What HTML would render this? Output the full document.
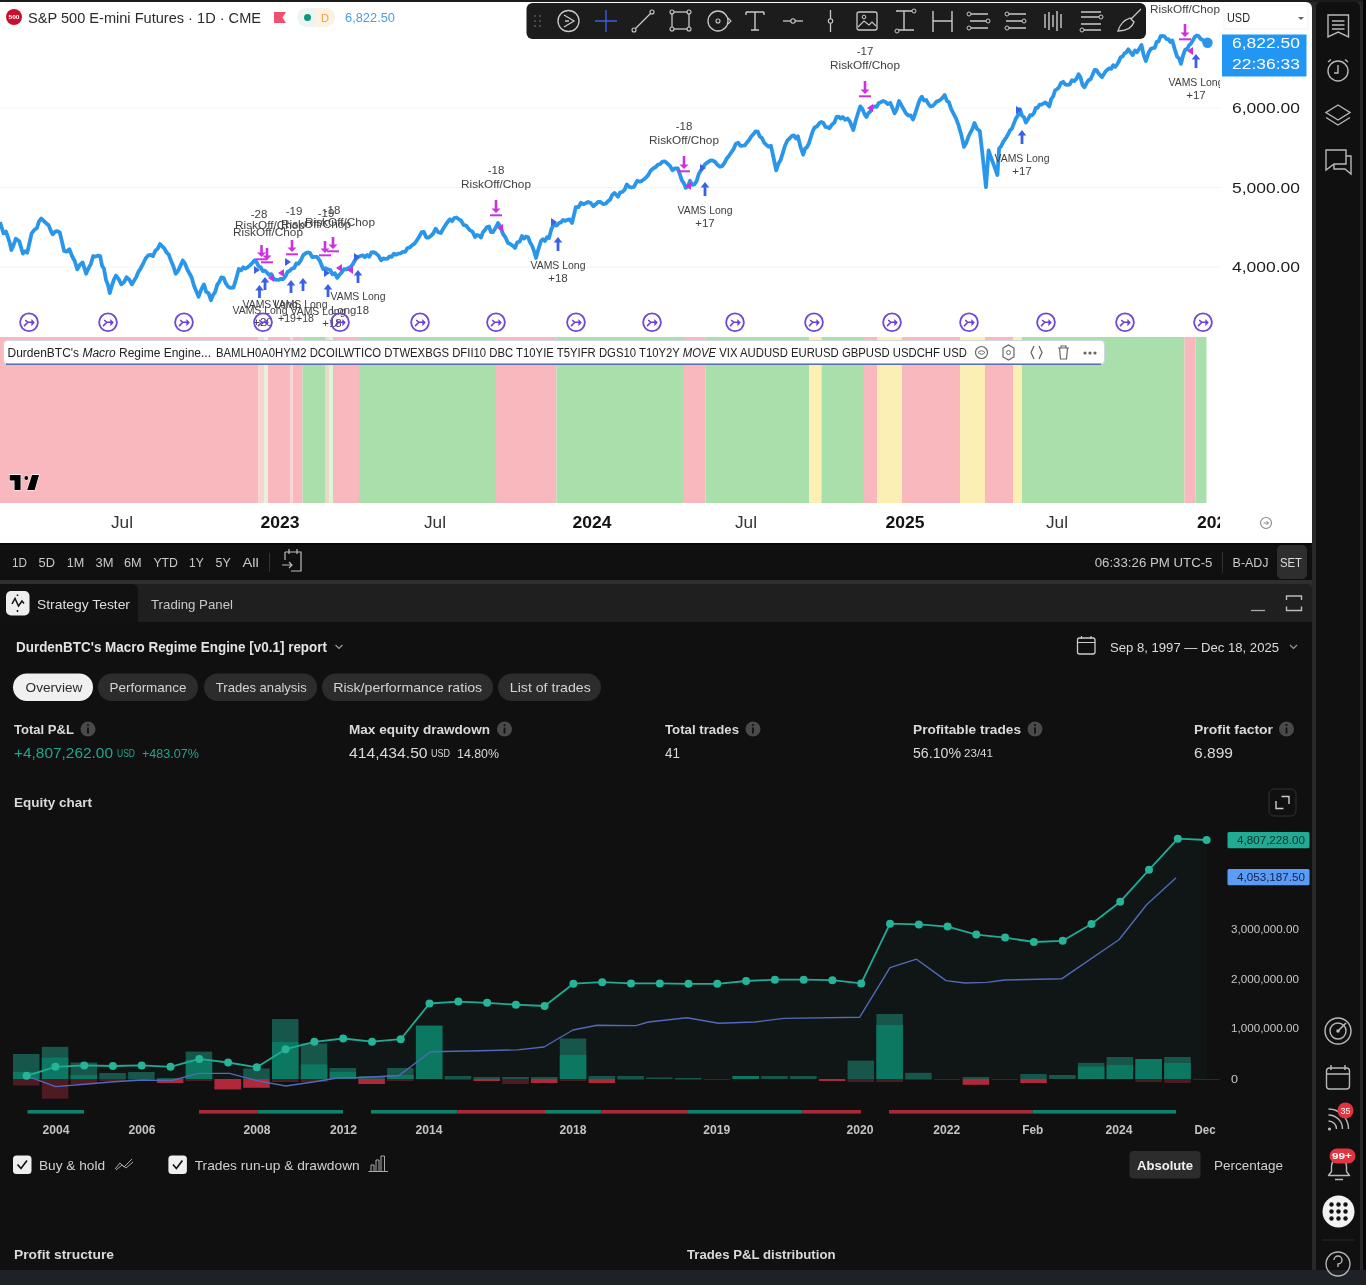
<!DOCTYPE html>
<html><head><meta charset="utf-8">
<style>
*{margin:0;padding:0;box-sizing:border-box}
html,body{width:1366px;height:1285px;overflow:hidden;background:#282828;font-family:"Liberation Sans",sans-serif}
.a{position:absolute}
.t{position:absolute;white-space:nowrap;line-height:1}
</style></head><body>

<div class="a" style="left:0;top:0;width:1366px;height:2px;background:#1b1b1b"></div><div class="a" style="left:1363px;top:0;width:3px;height:1285px;background:#070707"></div>
<div class="a" style="left:0;top:2px;width:1312px;height:541px;background:#fff;border-top-right-radius:6px"></div>
<div class="a" style="left:1316px;top:2px;width:44px;height:1268px;background:#101010;border-top-left-radius:5px;border-top-right-radius:5px"></div>
<div class="a" style="left:0;top:543px;width:1312px;height:37px;background:#101010"></div><div class="a" style="left:0;top:543px;width:1312px;height:2px;background:#080808"></div>
<div class="a" style="left:0;top:580px;width:1312px;height:4px;background:#2f2f2f"></div><div class="a" style="left:0;top:584px;width:1312px;height:38px;background:#1f1f1f;border-top-right-radius:6px"></div>
<div class="a" style="left:0;top:584px;width:138px;height:38px;background:#111111;border-top-right-radius:6px"></div>
<div class="a" style="left:0;top:622px;width:1312px;height:648px;background:#101010"></div>
<div class="a" style="left:0;top:1270px;width:1366px;height:15px;background:#1e2227"></div>
<svg class="a" style="left:0;top:0;will-change:transform" width="1312" height="543" font-family="Liberation Sans, sans-serif"><path d="M0 108H1220M0 187.5H1220M0 267H1220" stroke="#f2f3f6" stroke-width="1"/><rect x="0.0" y="337" width="258.5" height="166" fill="#f9b8bd"/><rect x="258.5" y="337" width="5.5" height="166" fill="#f6d4d0"/><rect x="264.0" y="337" width="4.0" height="166" fill="#e8f1dc"/><rect x="268.0" y="337" width="22.0" height="166" fill="#f9b8bd"/><rect x="290.0" y="337" width="3.0" height="166" fill="#f8d6d3"/><rect x="293.0" y="337" width="9.5" height="166" fill="#f9b8bd"/><rect x="302.5" y="337" width="22.5" height="166" fill="#a9dfaa"/><rect x="325.0" y="337" width="4.0" height="166" fill="#ead9c6"/><rect x="329.0" y="337" width="4.0" height="166" fill="#dcf5d8"/><rect x="333.0" y="337" width="26.0" height="166" fill="#f9b8bd"/><rect x="359.0" y="337" width="137.0" height="166" fill="#a9dfaa"/><rect x="496.0" y="337" width="60.5" height="166" fill="#f9b8bd"/><rect x="556.5" y="337" width="127.5" height="166" fill="#a9dfaa"/><rect x="684.0" y="337" width="21.5" height="166" fill="#f9b8bd"/><rect x="705.5" y="337" width="103.5" height="166" fill="#a9dfaa"/><rect x="809.0" y="337" width="12.5" height="166" fill="#fbefb3"/><rect x="821.5" y="337" width="42.5" height="166" fill="#a9dfaa"/><rect x="864.0" y="337" width="13.0" height="166" fill="#f9b8bd"/><rect x="877.0" y="337" width="25.0" height="166" fill="#fbefb3"/><rect x="902.0" y="337" width="58.0" height="166" fill="#f9b8bd"/><rect x="960.0" y="337" width="25.0" height="166" fill="#fbefb3"/><rect x="985.0" y="337" width="28.0" height="166" fill="#f9b8bd"/><rect x="1013.0" y="337" width="9.0" height="166" fill="#fbefb3"/><rect x="1022.0" y="337" width="162.5" height="166" fill="#a9dfaa"/><rect x="1184.5" y="337" width="11.0" height="166" fill="#f9b8bd"/><rect x="1195.5" y="337" width="11.0" height="166" fill="#a9dfaa"/><path d="M0.0 222.0 L3.5 233.4 L6.0 231.6 L7.8 236.9 L9.6 242.3 L11.4 250.0 L13.6 245.0 L15.8 238.7 L19.3 241.3 L22.8 253.6 L25.0 251.2 L27.2 252.7 L29.4 243.2 L31.6 233.4 L34.2 230.1 L36.9 228.0 L39.1 221.2 L41.3 218.5 L44.0 221.1 L46.6 223.7 L48.6 225.1 L50.7 230.5 L52.7 234.3 L55.1 231.7 L57.4 231.2 L59.8 232.5 L61.9 241.4 L64.1 251.0 L66.8 251.6 L69.4 249.2 L72.0 256.0 L74.7 261.0 L77.3 269.4 L79.9 264.6 L82.6 262.4 L86.1 273.8 L88.4 268.5 L90.8 264.1 L93.1 256.2 L95.5 256.6 L97.8 255.7 L100.2 256.2 L102.1 265.8 L104.0 268.8 L106.0 279.9 L107.9 284.7 L109.8 293.0 L111.9 285.6 L113.9 279.6 L116.0 275.6 L118.7 279.1 L121.3 284.4 L123.9 282.3 L126.5 277.3 L129.2 279.4 L131.8 284.4 L134.0 280.8 L136.2 277.1 L138.4 271.9 L140.6 268.5 L143.2 263.5 L145.9 258.0 L148.2 255.4 L150.6 254.8 L152.9 256.2 L155.3 250.8 L157.6 248.9 L160.0 244.0 L162.2 246.3 L164.3 248.4 L166.5 252.3 L168.7 254.5 L171.0 260.7 L173.4 266.4 L175.7 273.8 L178.1 270.8 L180.4 265.9 L182.8 260.6 L185.0 263.6 L187.2 269.3 L189.4 273.2 L191.6 277.3 L193.9 285.5 L196.3 291.3 L198.6 296.7 L201.2 289.6 L203.9 284.4 L206.2 291.9 L208.6 293.2 L210.9 300.2 L213.0 295.2 L215.1 292.2 L217.2 284.9 L219.3 281.8 L221.4 277.3 L223.6 277.8 L225.8 283.4 L228.0 286.5 L230.2 287.9 L233.5 287.5 L236.2 278.6 L238.8 269.0 L241.0 270.3 L243.2 267.3 L245.4 268.6 L247.6 267.3 L249.9 265.4 L252.3 263.0 L254.6 260.3 L256.7 262.4 L258.7 266.5 L260.8 267.3 L262.8 271.1 L264.9 270.7 L266.9 272.6 L269.1 275.1 L271.3 274.1 L273.5 278.8 L275.7 279.6 L278.4 279.9 L281.0 278.8 L283.2 279.1 L285.4 276.3 L287.6 271.8 L289.8 270.8 L292.0 268.5 L294.1 268.1 L296.3 263.4 L298.5 263.8 L300.9 260.1 L303.2 255.3 L305.6 253.3 L307.8 252.4 L310.0 253.0 L312.2 257.2 L314.4 256.8 L317.0 256.8 L319.6 260.3 L323.1 269.0 L325.5 268.2 L327.8 269.2 L330.2 270.0 L332.5 274.3 L334.9 273.3 L337.2 277.9 L339.5 274.7 L341.9 272.2 L344.2 269.0 L346.4 269.5 L348.6 267.9 L350.8 266.8 L353.0 263.8 L355.6 259.3 L358.3 256.8 L360.5 256.0 L362.7 255.3 L364.9 257.2 L367.1 255.0 L369.3 256.7 L371.5 252.5 L373.7 252.2 L375.9 253.3 L378.5 255.6 L381.1 260.3 L383.2 258.4 L385.3 258.8 L387.5 258.6 L389.6 256.4 L391.7 256.8 L393.9 253.6 L396.1 254.7 L398.3 253.6 L400.5 253.3 L402.8 251.8 L405.2 251.9 L407.5 248.0 L409.8 247.4 L412.2 245.1 L414.5 243.6 L416.9 240.3 L419.2 236.8 L421.6 232.2 L423.9 231.9 L426.3 237.6 L428.6 237.5 L430.9 235.9 L433.3 233.4 L435.6 228.7 L438.2 232.2 L440.9 233.0 L443.2 228.7 L445.6 224.9 L447.9 221.6 L450.0 219.3 L452.1 221.2 L454.3 218.0 L456.4 217.5 L458.5 219.0 L461.1 220.7 L463.7 225.1 L465.8 225.3 L467.9 227.9 L470.0 230.4 L472.5 231.6 L475.0 237.0 L477.0 234.9 L479.0 235.7 L481.0 237.5 L483.0 232.2 L485.0 229.9 L487.0 227.0 L489.0 226.5 L491.0 232.1 L493.0 232.0 L495.5 228.0 L498.0 223.0 L500.5 226.9 L503.0 234.0 L505.5 237.4 L508.0 243.0 L510.3 244.0 L512.7 245.7 L515.0 248.0 L517.3 242.3 L519.7 241.6 L522.0 236.0 L524.0 238.6 L526.0 236.5 L528.0 237.0 L530.0 242.2 L532.0 245.6 L534.0 250.9 L536.0 258.0 L538.5 248.8 L541.0 241.0 L543.0 239.2 L545.0 241.0 L547.0 237.2 L549.0 238.0 L551.5 228.8 L554.0 224.0 L556.5 225.6 L559.0 223.0 L561.0 222.4 L563.0 219.9 L565.0 220.9 L567.0 220.0 L569.5 219.3 L572.0 223.0 L573.9 215.2 L575.8 207.2 L578.4 207.2 L581.0 202.8 L583.4 204.2 L585.7 203.2 L588.1 202.0 L590.8 203.1 L593.4 206.3 L595.7 204.3 L598.1 201.9 L600.4 202.0 L603.0 204.1 L605.7 203.7 L607.9 201.2 L610.1 199.6 L612.3 194.9 L614.5 193.0 L618.0 196.7 L620.2 192.4 L622.4 192.0 L624.6 189.7 L626.8 184.4 L629.1 186.9 L631.5 187.5 L633.8 187.0 L637.3 180.8 L639.7 181.7 L642.0 180.7 L644.4 179.0 L647.9 175.6 L650.5 170.8 L653.1 168.5 L655.5 167.1 L657.8 164.8 L660.2 164.0 L662.5 161.6 L664.9 161.4 L667.2 163.3 L669.9 165.8 L672.5 170.3 L675.1 168.3 L677.8 168.5 L679.8 174.2 L681.8 180.3 L683.7 182.8 L685.7 187.9 L687.9 186.4 L690.0 180.8 L692.2 184.8 L694.4 184.4 L696.6 181.2 L698.8 173.8 L701.0 170.3 L703.2 166.8 L705.4 164.0 L707.6 162.4 L710.0 160.7 L712.3 160.4 L714.7 161.5 L717.4 164.7 L720.0 166.8 L722.2 166.0 L724.4 163.1 L726.5 158.8 L728.7 156.2 L731.0 152.8 L733.4 149.4 L735.7 144.0 L738.1 142.7 L740.4 145.9 L742.8 145.7 L744.9 145.3 L747.0 142.4 L749.1 140.0 L751.2 136.5 L753.3 134.3 L755.5 131.5 L757.7 131.6 L759.8 136.5 L761.8 137.9 L763.9 142.2 L766.2 144.8 L768.6 146.7 L770.9 145.7 L773.5 157.5 L776.2 170.3 L778.4 163.7 L780.6 160.1 L782.8 152.9 L785.0 145.7 L787.5 140.3 L790.0 138.0 L792.0 135.8 L794.0 135.5 L795.9 138.5 L797.9 136.2 L800.5 146.9 L803.2 154.7 L805.1 148.5 L807.0 147.1 L808.9 143.3 L810.8 137.3 L812.7 131.3 L814.6 127.5 L816.8 126.6 L819.0 123.6 L821.2 121.9 L823.4 123.0 L825.4 126.9 L827.5 127.2 L829.5 128.3 L831.9 124.6 L834.2 122.7 L836.6 116.9 L838.6 116.6 L840.7 118.6 L842.7 116.9 L845.1 119.9 L847.4 118.5 L849.8 121.3 L853.3 130.0 L855.6 121.0 L858.0 113.3 L860.3 106.4 L862.3 108.7 L864.4 113.9 L866.4 117.0 L868.4 113.2 L870.4 111.3 L872.4 107.4 L874.4 106.4 L876.6 106.9 L878.8 103.0 L880.9 102.2 L883.1 101.0 L885.5 102.0 L887.8 104.1 L890.2 102.8 L892.4 107.7 L894.6 113.4 L896.8 109.1 L899.0 101.0 L901.3 105.1 L903.7 109.4 L906.0 113.4 L908.3 115.5 L910.7 115.3 L913.0 119.5 L915.2 113.5 L917.4 106.6 L919.6 100.1 L921.8 96.7 L924.0 100.5 L926.2 100.0 L928.4 103.9 L930.6 106.4 L932.7 106.0 L934.8 103.8 L936.9 101.3 L939.0 100.8 L941.1 99.3 L942.9 97.4 L944.7 95.0 L946.9 100.9 L949.0 102.4 L951.2 109.1 L953.4 113.4 L956.0 118.4 L958.7 125.7 L961.4 135.2 L964.0 146.8 L966.1 143.3 L968.2 137.3 L970.3 132.8 L972.4 129.0 L974.5 123.0 L977.1 128.9 L979.8 131.0 L982.4 153.8 L984.2 170.2 L986.0 187.2 L988.6 150.3 L990.8 157.0 L993.0 162.7 L995.2 168.9 L997.4 175.0 L999.1 148.5 L1001.3 145.9 L1003.5 141.3 L1005.8 138.2 L1008.0 134.5 L1010.0 130.4 L1011.9 128.6 L1013.8 123.6 L1015.8 118.7 L1017.9 115.7 L1020.0 109.3 L1022.0 115.7 L1023.9 117.0 L1025.9 122.5 L1028.1 119.1 L1030.2 115.2 L1032.0 115.4 L1033.9 113.1 L1035.8 108.0 L1037.6 107.8 L1039.5 104.6 L1041.5 104.7 L1043.4 103.5 L1045.4 102.5 L1047.3 104.2 L1049.3 106.4 L1051.2 99.1 L1053.2 96.4 L1055.1 90.3 L1057.1 89.2 L1059.0 87.3 L1061.0 83.0 L1063.2 81.8 L1065.4 84.7 L1067.6 84.8 L1069.8 84.4 L1072.0 80.2 L1074.2 81.1 L1076.4 78.9 L1078.6 74.2 L1080.5 77.3 L1082.5 85.0 L1084.4 87.3 L1086.5 83.3 L1088.5 80.2 L1090.6 79.1 L1092.6 74.8 L1094.7 69.8 L1096.5 70.1 L1098.3 73.1 L1100.2 75.3 L1102.0 77.1 L1103.8 74.2 L1105.7 71.3 L1107.5 69.7 L1109.3 68.3 L1111.3 68.9 L1113.2 65.2 L1115.2 66.9 L1117.0 64.6 L1118.8 61.5 L1120.7 57.0 L1122.5 56.6 L1124.4 53.4 L1126.4 52.3 L1128.3 49.3 L1130.5 52.3 L1132.7 55.1 L1134.9 50.5 L1137.1 52.2 L1139.3 48.8 L1141.5 44.9 L1143.7 55.1 L1145.9 61.0 L1148.8 52.2 L1150.8 48.9 L1152.7 48.2 L1154.7 47.8 L1156.7 41.8 L1158.6 41.3 L1160.6 36.1 L1162.5 36.0 L1164.5 36.3 L1166.4 39.0 L1168.4 39.1 L1170.3 41.9 L1172.3 40.5 L1175.2 50.7 L1177.1 56.6 L1179.1 58.4 L1181.0 63.9 L1183.2 55.0 L1185.4 49.3 L1187.2 49.0 L1189.1 45.2 L1191.0 43.6 L1192.8 40.5 L1194.7 37.1 L1196.7 35.5 L1198.6 36.1 L1200.6 38.9 L1202.5 39.7 L1204.5 42.0 L1207.4 42.7" stroke="#2a96ea" stroke-width="3.8" fill="none" stroke-linejoin="round"/><circle cx="1207.5" cy="42.7" r="5.2" fill="#2a96ea"/><clipPath id="plotclip"><rect x="0" y="0" width="1220" height="543"/></clipPath><g clip-path="url(#plotclip)"><text x="496" y="174" font-size="11.5" fill="#404040" text-anchor="middle" font-weight="normal" >-18</text><text x="496" y="188" font-size="11.5" fill="#404040" text-anchor="middle" font-weight="normal"  textLength="70" lengthAdjust="spacingAndGlyphs">RiskOff/Chop</text><path d="M496.0 200.0 V210.0" stroke="#cc30e0" stroke-width="2.6"/><path d="M491.5 208.5 L496.0 213.0 L500.5 208.5 Z" fill="#cc30e0"/><path d="M490.0 215.3 H502.0" stroke="#cc30e0" stroke-width="2"/><text x="684" y="130" font-size="11.5" fill="#404040" text-anchor="middle" font-weight="normal" >-18</text><text x="684" y="144" font-size="11.5" fill="#404040" text-anchor="middle" font-weight="normal"  textLength="70" lengthAdjust="spacingAndGlyphs">RiskOff/Chop</text><path d="M684.0 156.0 V166.0" stroke="#cc30e0" stroke-width="2.6"/><path d="M679.5 164.5 L684.0 169.0 L688.5 164.5 Z" fill="#cc30e0"/><path d="M678.0 171.3 H690.0" stroke="#cc30e0" stroke-width="2"/><text x="865" y="55" font-size="11.5" fill="#404040" text-anchor="middle" font-weight="normal" >-17</text><text x="865" y="69" font-size="11.5" fill="#404040" text-anchor="middle" font-weight="normal"  textLength="70" lengthAdjust="spacingAndGlyphs">RiskOff/Chop</text><path d="M865.0 81.0 V91.0" stroke="#cc30e0" stroke-width="2.6"/><path d="M860.5 89.5 L865.0 94.0 L869.5 89.5 Z" fill="#cc30e0"/><path d="M859.0 96.3 H871.0" stroke="#cc30e0" stroke-width="2"/><text x="1185" y="13" font-size="11.5" fill="#404040" text-anchor="middle" font-weight="normal"  textLength="70" lengthAdjust="spacingAndGlyphs">RiskOff/Chop</text><path d="M1185.0 24.0 V34.0" stroke="#cc30e0" stroke-width="2.6"/><path d="M1180.5 32.5 L1185.0 37.0 L1189.5 32.5 Z" fill="#cc30e0"/><path d="M1179.0 39.3 H1191.0" stroke="#cc30e0" stroke-width="2"/><path d="M558.0 251.0 V240.0" stroke="#3b5fe6" stroke-width="2.8"/><path d="M553.7 242.5 L558.0 237.0 L562.3 242.5 Z" fill="#3b5fe6"/><text x="558" y="269" font-size="11.5" fill="#404040" text-anchor="middle" font-weight="normal"  textLength="55" lengthAdjust="spacingAndGlyphs">VAMS Long</text><text x="558" y="282" font-size="11.5" fill="#404040" text-anchor="middle" font-weight="normal" >+18</text><path d="M705.0 196.0 V185.0" stroke="#3b5fe6" stroke-width="2.8"/><path d="M700.7 187.5 L705.0 182.0 L709.3 187.5 Z" fill="#3b5fe6"/><text x="705" y="214" font-size="11.5" fill="#404040" text-anchor="middle" font-weight="normal"  textLength="55" lengthAdjust="spacingAndGlyphs">VAMS Long</text><text x="705" y="227" font-size="11.5" fill="#404040" text-anchor="middle" font-weight="normal" >+17</text><path d="M1022.0 144.0 V133.0" stroke="#3b5fe6" stroke-width="2.8"/><path d="M1017.7 135.5 L1022.0 130.0 L1026.3 135.5 Z" fill="#3b5fe6"/><text x="1022" y="162" font-size="11.5" fill="#404040" text-anchor="middle" font-weight="normal"  textLength="55" lengthAdjust="spacingAndGlyphs">VAMS Long</text><text x="1022" y="175" font-size="11.5" fill="#404040" text-anchor="middle" font-weight="normal" >+17</text><path d="M1196.0 68.0 V57.0" stroke="#3b5fe6" stroke-width="2.8"/><path d="M1191.7 59.5 L1196.0 54.0 L1200.3 59.5 Z" fill="#3b5fe6"/><text x="1196" y="86" font-size="11.5" fill="#404040" text-anchor="middle" font-weight="normal"  textLength="55" lengthAdjust="spacingAndGlyphs">VAMS Long</text><text x="1196" y="99" font-size="11.5" fill="#404040" text-anchor="middle" font-weight="normal" >+17</text><path d="M497.0 228.0 L503.0 224.0 L503.0 232.0 Z" fill="#cc30e0"/><path d="M557.0 222.0 L551.0 218.0 L551.0 226.0 Z" fill="#3b5fe6"/><path d="M685.0 186.0 L691.0 182.0 L691.0 190.0 Z" fill="#cc30e0"/><path d="M706.0 168.0 L700.0 164.0 L700.0 172.0 Z" fill="#3b5fe6"/><path d="M867.0 108.0 L873.0 104.0 L873.0 112.0 Z" fill="#cc30e0"/><path d="M1022.0 110.0 L1016.0 106.0 L1016.0 114.0 Z" fill="#3b5fe6"/><path d="M1187.0 51.0 L1193.0 47.0 L1193.0 55.0 Z" fill="#cc30e0"/><path d="M261.5 245.0 V254.0" stroke="#cc30e0" stroke-width="2.6"/><path d="M257.0 252.5 L261.5 257.0 L266.0 252.5 Z" fill="#cc30e0"/><path d="M255.5 259.3 H267.5" stroke="#cc30e0" stroke-width="2"/><path d="M267.0 248.0 V257.0" stroke="#cc30e0" stroke-width="2.6"/><path d="M262.5 255.5 L267.0 260.0 L271.5 255.5 Z" fill="#cc30e0"/><path d="M261.0 262.3 H273.0" stroke="#cc30e0" stroke-width="2"/><path d="M292.0 240.0 V249.0" stroke="#cc30e0" stroke-width="2.6"/><path d="M287.5 247.5 L292.0 252.0 L296.5 247.5 Z" fill="#cc30e0"/><path d="M286.0 254.3 H298.0" stroke="#cc30e0" stroke-width="2"/><path d="M325.0 241.0 V250.0" stroke="#cc30e0" stroke-width="2.6"/><path d="M320.5 248.5 L325.0 253.0 L329.5 248.5 Z" fill="#cc30e0"/><path d="M319.0 255.3 H331.0" stroke="#cc30e0" stroke-width="2"/><path d="M333.0 237.0 V246.0" stroke="#cc30e0" stroke-width="2.6"/><path d="M328.5 244.5 L333.0 249.0 L337.5 244.5 Z" fill="#cc30e0"/><path d="M327.0 251.3 H339.0" stroke="#cc30e0" stroke-width="2"/><path d="M259.5 298.0 V288.0" stroke="#3b5fe6" stroke-width="2.8"/><path d="M255.2 290.5 L259.5 285.0 L263.8 290.5 Z" fill="#3b5fe6"/><path d="M265.0 290.0 V280.0" stroke="#3b5fe6" stroke-width="2.8"/><path d="M260.7 282.5 L265.0 277.0 L269.3 282.5 Z" fill="#3b5fe6"/><path d="M291.0 293.0 V283.0" stroke="#3b5fe6" stroke-width="2.8"/><path d="M286.7 285.5 L291.0 280.0 L295.3 285.5 Z" fill="#3b5fe6"/><path d="M303.0 291.0 V281.0" stroke="#3b5fe6" stroke-width="2.8"/><path d="M298.7 283.5 L303.0 278.0 L307.3 283.5 Z" fill="#3b5fe6"/><path d="M328.0 297.0 V287.0" stroke="#3b5fe6" stroke-width="2.8"/><path d="M323.7 289.5 L328.0 284.0 L332.3 289.5 Z" fill="#3b5fe6"/><path d="M358.0 283.0 V273.0" stroke="#3b5fe6" stroke-width="2.8"/><path d="M353.7 275.5 L358.0 270.0 L362.3 275.5 Z" fill="#3b5fe6"/><path d="M268.0 278.0 L274.0 274.0 L274.0 282.0 Z" fill="#cc30e0"/><path d="M278.0 273.0 L284.0 269.0 L284.0 277.0 Z" fill="#cc30e0"/><path d="M260.0 270.0 L254.0 266.0 L254.0 274.0 Z" fill="#3b5fe6"/><path d="M291.0 262.0 L285.0 258.0 L285.0 266.0 Z" fill="#3b5fe6"/><path d="M336.0 268.0 L342.0 264.0 L342.0 272.0 Z" fill="#cc30e0"/><path d="M347.0 270.0 L353.0 266.0 L353.0 274.0 Z" fill="#cc30e0"/><path d="M330.0 273.0 L324.0 269.0 L324.0 277.0 Z" fill="#3b5fe6"/><path d="M360.0 257.0 L354.0 253.0 L354.0 261.0 Z" fill="#3b5fe6"/><text x="259" y="218" font-size="11.5" fill="#404040" text-anchor="middle" font-weight="normal" >-28</text><text x="294" y="215" font-size="11.5" fill="#404040" text-anchor="middle" font-weight="normal" >-19</text><text x="332" y="214" font-size="11.5" fill="#404040" text-anchor="middle" font-weight="normal" >-18</text><text x="326" y="217" font-size="11.5" fill="#404040" text-anchor="middle" font-weight="normal" >-19</text><text x="270" y="229" font-size="11.5" fill="#404040" text-anchor="middle" font-weight="normal"  textLength="70" lengthAdjust="spacingAndGlyphs">RiskOff/Chop</text><text x="316" y="228" font-size="11.5" fill="#404040" text-anchor="middle" font-weight="normal"  textLength="70" lengthAdjust="spacingAndGlyphs">RiskOff/Chop</text><text x="340" y="226" font-size="11.5" fill="#404040" text-anchor="middle" font-weight="normal"  textLength="70" lengthAdjust="spacingAndGlyphs">RiskOff/Chop</text><text x="268" y="236" font-size="11.5" fill="#404040" text-anchor="middle" font-weight="normal"  textLength="70" lengthAdjust="spacingAndGlyphs">RiskOff/Chop</text><text x="270" y="308" font-size="11.5" fill="#404040" text-anchor="middle" font-weight="normal"  textLength="55" lengthAdjust="spacingAndGlyphs">VAMS Long</text><text x="300" y="308" font-size="11.5" fill="#404040" text-anchor="middle" font-weight="normal"  textLength="55" lengthAdjust="spacingAndGlyphs">VAMS Long</text><text x="260" y="314" font-size="11.5" fill="#404040" text-anchor="middle" font-weight="normal"  textLength="55" lengthAdjust="spacingAndGlyphs">VAMS Long</text><text x="318" y="315" font-size="11.5" fill="#404040" text-anchor="middle" font-weight="normal"  textLength="55" lengthAdjust="spacingAndGlyphs">VAMS Long</text><text x="358" y="300" font-size="11.5" fill="#404040" text-anchor="middle" font-weight="normal"  textLength="55" lengthAdjust="spacingAndGlyphs">VAMS Long</text><text x="350" y="314" font-size="11.5" fill="#404040" text-anchor="middle" font-weight="normal"  textLength="38" lengthAdjust="spacingAndGlyphs">Long18</text><text x="296" y="322" font-size="11.5" fill="#404040" text-anchor="middle" font-weight="normal"  textLength="36" lengthAdjust="spacingAndGlyphs">+19+18</text><text x="263" y="326" font-size="11.5" fill="#404040" text-anchor="middle" font-weight="normal" >+20</text><text x="332" y="327" font-size="11.5" fill="#404040" text-anchor="middle" font-weight="normal" >+18</text></g><g transform="translate(29 322.3)"><circle r="8.9" fill="none" stroke="#7048d8" stroke-width="1.8"/><path d="M-3.8 -2.2 L-1.2 0 L-5 3.8 M-1.2 0 H3" stroke="#6a42d4" stroke-width="1.5" fill="none"/><path d="M2.4 -3.3 L5.8 0.3 L2.4 4 Z" fill="#6a42d4"/></g><g transform="translate(108 322.3)"><circle r="8.9" fill="none" stroke="#7048d8" stroke-width="1.8"/><path d="M-3.8 -2.2 L-1.2 0 L-5 3.8 M-1.2 0 H3" stroke="#6a42d4" stroke-width="1.5" fill="none"/><path d="M2.4 -3.3 L5.8 0.3 L2.4 4 Z" fill="#6a42d4"/></g><g transform="translate(184 322.3)"><circle r="8.9" fill="none" stroke="#7048d8" stroke-width="1.8"/><path d="M-3.8 -2.2 L-1.2 0 L-5 3.8 M-1.2 0 H3" stroke="#6a42d4" stroke-width="1.5" fill="none"/><path d="M2.4 -3.3 L5.8 0.3 L2.4 4 Z" fill="#6a42d4"/></g><g transform="translate(263 322.3)"><circle r="8.9" fill="none" stroke="#7048d8" stroke-width="1.8"/><path d="M-3.8 -2.2 L-1.2 0 L-5 3.8 M-1.2 0 H3" stroke="#6a42d4" stroke-width="1.5" fill="none"/><path d="M2.4 -3.3 L5.8 0.3 L2.4 4 Z" fill="#6a42d4"/></g><g transform="translate(340 322.3)"><circle r="8.9" fill="none" stroke="#7048d8" stroke-width="1.8"/><path d="M-3.8 -2.2 L-1.2 0 L-5 3.8 M-1.2 0 H3" stroke="#6a42d4" stroke-width="1.5" fill="none"/><path d="M2.4 -3.3 L5.8 0.3 L2.4 4 Z" fill="#6a42d4"/></g><g transform="translate(420 322.3)"><circle r="8.9" fill="none" stroke="#7048d8" stroke-width="1.8"/><path d="M-3.8 -2.2 L-1.2 0 L-5 3.8 M-1.2 0 H3" stroke="#6a42d4" stroke-width="1.5" fill="none"/><path d="M2.4 -3.3 L5.8 0.3 L2.4 4 Z" fill="#6a42d4"/></g><g transform="translate(496 322.3)"><circle r="8.9" fill="none" stroke="#7048d8" stroke-width="1.8"/><path d="M-3.8 -2.2 L-1.2 0 L-5 3.8 M-1.2 0 H3" stroke="#6a42d4" stroke-width="1.5" fill="none"/><path d="M2.4 -3.3 L5.8 0.3 L2.4 4 Z" fill="#6a42d4"/></g><g transform="translate(576 322.3)"><circle r="8.9" fill="none" stroke="#7048d8" stroke-width="1.8"/><path d="M-3.8 -2.2 L-1.2 0 L-5 3.8 M-1.2 0 H3" stroke="#6a42d4" stroke-width="1.5" fill="none"/><path d="M2.4 -3.3 L5.8 0.3 L2.4 4 Z" fill="#6a42d4"/></g><g transform="translate(652 322.3)"><circle r="8.9" fill="none" stroke="#7048d8" stroke-width="1.8"/><path d="M-3.8 -2.2 L-1.2 0 L-5 3.8 M-1.2 0 H3" stroke="#6a42d4" stroke-width="1.5" fill="none"/><path d="M2.4 -3.3 L5.8 0.3 L2.4 4 Z" fill="#6a42d4"/></g><g transform="translate(735 322.3)"><circle r="8.9" fill="none" stroke="#7048d8" stroke-width="1.8"/><path d="M-3.8 -2.2 L-1.2 0 L-5 3.8 M-1.2 0 H3" stroke="#6a42d4" stroke-width="1.5" fill="none"/><path d="M2.4 -3.3 L5.8 0.3 L2.4 4 Z" fill="#6a42d4"/></g><g transform="translate(814 322.3)"><circle r="8.9" fill="none" stroke="#7048d8" stroke-width="1.8"/><path d="M-3.8 -2.2 L-1.2 0 L-5 3.8 M-1.2 0 H3" stroke="#6a42d4" stroke-width="1.5" fill="none"/><path d="M2.4 -3.3 L5.8 0.3 L2.4 4 Z" fill="#6a42d4"/></g><g transform="translate(892 322.3)"><circle r="8.9" fill="none" stroke="#7048d8" stroke-width="1.8"/><path d="M-3.8 -2.2 L-1.2 0 L-5 3.8 M-1.2 0 H3" stroke="#6a42d4" stroke-width="1.5" fill="none"/><path d="M2.4 -3.3 L5.8 0.3 L2.4 4 Z" fill="#6a42d4"/></g><g transform="translate(969 322.3)"><circle r="8.9" fill="none" stroke="#7048d8" stroke-width="1.8"/><path d="M-3.8 -2.2 L-1.2 0 L-5 3.8 M-1.2 0 H3" stroke="#6a42d4" stroke-width="1.5" fill="none"/><path d="M2.4 -3.3 L5.8 0.3 L2.4 4 Z" fill="#6a42d4"/></g><g transform="translate(1046 322.3)"><circle r="8.9" fill="none" stroke="#7048d8" stroke-width="1.8"/><path d="M-3.8 -2.2 L-1.2 0 L-5 3.8 M-1.2 0 H3" stroke="#6a42d4" stroke-width="1.5" fill="none"/><path d="M2.4 -3.3 L5.8 0.3 L2.4 4 Z" fill="#6a42d4"/></g><g transform="translate(1125 322.3)"><circle r="8.9" fill="none" stroke="#7048d8" stroke-width="1.8"/><path d="M-3.8 -2.2 L-1.2 0 L-5 3.8 M-1.2 0 H3" stroke="#6a42d4" stroke-width="1.5" fill="none"/><path d="M2.4 -3.3 L5.8 0.3 L2.4 4 Z" fill="#6a42d4"/></g><g transform="translate(1203 322.3)"><circle r="8.9" fill="none" stroke="#7048d8" stroke-width="1.8"/><path d="M-3.8 -2.2 L-1.2 0 L-5 3.8 M-1.2 0 H3" stroke="#6a42d4" stroke-width="1.5" fill="none"/><path d="M2.4 -3.3 L5.8 0.3 L2.4 4 Z" fill="#6a42d4"/></g></svg><svg class="a" style="left:0;top:0;will-change:transform" width="1366" height="1285" font-family="Liberation Sans, sans-serif"><circle cx="14" cy="17" r="8" fill="#c8102e"/><text x="8.5" y="19.0" font-size="5.5" fill="#fff" font-weight="bold" text-anchor="start" textLength="11" lengthAdjust="spacingAndGlyphs" >500</text><text x="28" y="22.7" font-size="14.5" fill="#2b2b2b" font-weight="normal" text-anchor="start" textLength="233" lengthAdjust="spacingAndGlyphs" >S&amp;P 500 E-mini Futures · 1D · CME</text><path d="M274 12 H286 L282.5 17.5 L286 23 H274 Z" fill="#f0506e"/><rect x="297" y="8" width="38" height="19" rx="9.5" fill="#eef4f1"/><rect x="316" y="8" width="19" height="19" rx="9.5" fill="#fdf1e2"/><rect x="316" y="8" width="8" height="19" fill="#fdf1e2"/><circle cx="307.5" cy="17.5" r="3.5" fill="#089981"/><text x="321" y="21.5" font-size="11" fill="#f0a040" font-weight="normal" text-anchor="start" textLength="8" lengthAdjust="spacingAndGlyphs" >D</text><text x="345" y="21.8" font-size="12" fill="#4c9be6" font-weight="normal" text-anchor="start" textLength="50" lengthAdjust="spacingAndGlyphs" >6,822.50</text><rect x="526.5" y="3" width="619.5" height="36" rx="6" fill="#1c1c1c"/><g fill="#555"><circle cx="535" cy="16" r="1.1"/><circle cx="540" cy="16" r="1.1"/><circle cx="535" cy="21" r="1.1"/><circle cx="540" cy="21" r="1.1"/><circle cx="535" cy="26" r="1.1"/><circle cx="540" cy="26" r="1.1"/></g><circle cx="568.5" cy="21" r="10.5" fill="none" stroke="#c9c9c9" stroke-width="1.3"/><path d="M564 15 L574 21 L564 27 M569 21 L565 21" fill="none" stroke="#c9c9c9" stroke-width="1.3"/><path d="M606 10 V32 M595 21 H617" stroke="#3d5ee0" stroke-width="1.4"/><path d="M635 29 L652 12" stroke="#c9c9c9" stroke-width="1.3"/><circle cx="634" cy="30" r="2" fill="#1c1c1c" stroke="#c9c9c9" stroke-width="1.1"/><circle cx="652" cy="12" r="2" fill="#1c1c1c" stroke="#c9c9c9" stroke-width="1.1"/><rect x="672" y="12" width="17" height="17" fill="none" stroke="#c9c9c9" stroke-width="1.3"/><circle cx="672" cy="12" r="2" fill="#1c1c1c" stroke="#c9c9c9" stroke-width="1.1"/><circle cx="689" cy="12" r="2" fill="#1c1c1c" stroke="#c9c9c9" stroke-width="1.1"/><circle cx="672" cy="29" r="2" fill="#1c1c1c" stroke="#c9c9c9" stroke-width="1.1"/><circle cx="689" cy="29" r="2" fill="#1c1c1c" stroke="#c9c9c9" stroke-width="1.1"/><circle cx="718" cy="21" r="10" fill="none" stroke="#c9c9c9" stroke-width="1.3"/><circle cx="718" cy="21" r="2" fill="none" stroke="#c9c9c9" stroke-width="1.1"/><path d="M728 18 L731 21 L728 24" fill="none" stroke="#c9c9c9" stroke-width="1.1"/><path d="M746 12 H764 M746 12 V15 M764 12 V15 M755 12 V30 M751 30 H759" fill="none" stroke="#c9c9c9" stroke-width="1.4"/><path d="M783 21 H803" stroke="#c9c9c9" stroke-width="1.3"/><circle cx="793" cy="21" r="2.2" fill="#1c1c1c" stroke="#c9c9c9" stroke-width="1.1"/><path d="M830.5 10 V32" stroke="#c9c9c9" stroke-width="1.3"/><circle cx="830.5" cy="21" r="2.2" fill="#1c1c1c" stroke="#c9c9c9" stroke-width="1.1"/><rect x="857" y="12" width="20" height="18" rx="2" fill="none" stroke="#c9c9c9" stroke-width="1.3"/><path d="M858 27 L864 21 L869 25 L872 22 L876 26" fill="none" stroke="#c9c9c9" stroke-width="1.1"/><circle cx="864" cy="17" r="1.8" fill="none" stroke="#c9c9c9"/><path d="M896 11 H912 M904 11 V30 M896 30 H914" fill="none" stroke="#c9c9c9" stroke-width="1.4"/><circle cx="914" cy="11" r="2" fill="#1c1c1c" stroke="#c9c9c9"/><circle cx="897" cy="31" r="2" fill="#1c1c1c" stroke="#c9c9c9"/><path d="M933 11 V32 M933 21 H952 M952 11 V32" fill="none" stroke="#c9c9c9" stroke-width="1.4"/><path d="M970 14 H988 M970 21 H988 M970 28 H988" stroke="#c9c9c9" stroke-width="1.3"/><circle cx="969" cy="14" r="2" fill="#1c1c1c" stroke="#c9c9c9"/><circle cx="988" cy="21" r="2" fill="#1c1c1c" stroke="#c9c9c9"/><circle cx="969" cy="28" r="2" fill="#1c1c1c" stroke="#c9c9c9"/><path d="M1006 14 H1026 M1006 21 H1026 M1006 28 H1026" stroke="#c9c9c9" stroke-width="1.3"/><circle cx="1007" cy="14" r="2" fill="#1c1c1c" stroke="#c9c9c9"/><circle cx="1024" cy="21" r="2" fill="#1c1c1c" stroke="#c9c9c9"/><circle cx="1007" cy="28" r="2" fill="#1c1c1c" stroke="#c9c9c9"/><path d="M1045 14 V28 M1049 12 V30 M1053 15 V27 M1057 11 V31 M1061 14 V28" stroke="#c9c9c9" stroke-width="1.4"/><path d="M1081 12 H1101 M1081 17 H1101 M1081 24 H1101 M1081 30 H1101" stroke="#c9c9c9" stroke-width="1.3"/><circle cx="1101" cy="17" r="2" fill="#1c1c1c" stroke="#c9c9c9"/><circle cx="1082" cy="30" r="2" fill="#1c1c1c" stroke="#c9c9c9"/><path d="M1118 31 C1120 24 1124 20 1130 18 L1134 22 C1132 28 1126 31 1118 31 Z M1131 19 L1141 9" fill="none" stroke="#c9c9c9" stroke-width="1.3"/><rect x="1224" y="5" width="84" height="24" fill="none" stroke="#f3f3f3" stroke-width="1"/><text x="1227" y="22.3" font-size="12" fill="#222" font-weight="normal" text-anchor="start" textLength="23" lengthAdjust="spacingAndGlyphs" >USD</text><path d="M1298 17 L1304 17 L1301 20 Z" fill="#666"/><rect x="1222" y="34.5" width="84.5" height="42" fill="#2196f3"/><text x="1232" y="48.4" font-size="15" fill="#fff" font-weight="normal" text-anchor="start" textLength="68" lengthAdjust="spacingAndGlyphs" >6,822.50</text><text x="1232" y="68.6" font-size="15" fill="#fff" font-weight="normal" text-anchor="start" textLength="68" lengthAdjust="spacingAndGlyphs" >22:36:33</text><text x="1232" y="113.4" font-size="15" fill="#1e1e1e" font-weight="normal" text-anchor="start" textLength="68" lengthAdjust="spacingAndGlyphs" >6,000.00</text><text x="1232" y="192.9" font-size="15" fill="#1e1e1e" font-weight="normal" text-anchor="start" textLength="68" lengthAdjust="spacingAndGlyphs" >5,000.00</text><text x="1232" y="272.4" font-size="15" fill="#1e1e1e" font-weight="normal" text-anchor="start" textLength="68" lengthAdjust="spacingAndGlyphs" >4,000.00</text><rect x="3.5" y="340.5" width="1101" height="23.5" rx="4" fill="#fff" stroke="#cfd6e6" stroke-width="1"/><path d="M6 364.2 H1101" stroke="#5a6fb0" stroke-width="1.6"/><text x="7.5" y="356.6" font-size="12" fill="#222" textLength="203.5" lengthAdjust="spacingAndGlyphs">DurdenBTC's <tspan font-style="italic">Macro</tspan> Regime Engine...</text><text x="216" y="356.8" font-size="12" fill="#222" textLength="751" lengthAdjust="spacingAndGlyphs">BAMLH0A0HYM2 DCOILWTICO DTWEXBGS DFII10 DBC T10YIE T5YIFR DGS10 T10Y2Y <tspan font-style="italic">MOVE</tspan> VIX AUDUSD EURUSD GBPUSD USDCHF USD</text><circle cx="981.5" cy="352.5" r="6" fill="none" stroke="#666" stroke-width="1.2"/><path d="M978 352.5 Q981.5 349 985 352.5 Q981.5 356 978 352.5" fill="none" stroke="#666"/><path d="M1003 348 L1008.5 345 L1014 348 V357 L1008.5 360 L1003 357 Z" fill="none" stroke="#666" stroke-width="1.2"/><circle cx="1008.5" cy="352.5" r="2" fill="none" stroke="#666"/><path d="M1034 346 L1031 352.5 L1034 359 M1039 346 L1042 352.5 L1039 359" fill="none" stroke="#666" stroke-width="1.3"/><path d="M1058 348 H1069 M1061 348 V346 H1066 V348 M1059.5 348 L1060.5 359 H1066.5 L1067.5 348" fill="none" stroke="#666" stroke-width="1.2"/><circle cx="1085" cy="353" r="1.6" fill="#666"/><circle cx="1090" cy="353" r="1.6" fill="#666"/><circle cx="1095" cy="353" r="1.6" fill="#666"/><path d="M9.7 474.9 H20.6 V489.9 H14.5 V480.6 H9.7 Z M32 474.9 H39 L34.7 489.9 H27.2 Z" fill="#000" stroke="#fff" stroke-width="1.2" paint-order="stroke"/><circle cx="26.3" cy="478" r="1.9" fill="#000" stroke="#fff" stroke-width="1" paint-order="stroke"/><text x="111.0" y="527.8" font-size="16" fill="#333" font-weight="normal" text-anchor="start" textLength="22" lengthAdjust="spacingAndGlyphs" >Jul</text><text x="260.5" y="527.8" font-size="16" fill="#131313" font-weight="bold" text-anchor="start" textLength="39" lengthAdjust="spacingAndGlyphs" >2023</text><text x="424.0" y="527.8" font-size="16" fill="#333" font-weight="normal" text-anchor="start" textLength="22" lengthAdjust="spacingAndGlyphs" >Jul</text><text x="572.5" y="527.8" font-size="16" fill="#131313" font-weight="bold" text-anchor="start" textLength="39" lengthAdjust="spacingAndGlyphs" >2024</text><text x="735.0" y="527.8" font-size="16" fill="#333" font-weight="normal" text-anchor="start" textLength="22" lengthAdjust="spacingAndGlyphs" >Jul</text><text x="885.5" y="527.8" font-size="16" fill="#131313" font-weight="bold" text-anchor="start" textLength="39" lengthAdjust="spacingAndGlyphs" >2025</text><text x="1046.0" y="527.8" font-size="16" fill="#333" font-weight="normal" text-anchor="start" textLength="22" lengthAdjust="spacingAndGlyphs" >Jul</text><svg x="0" y="500" width="1220" height="43"><text x="1197" y="27.8" font-size="16" font-weight="bold" fill="#131313" textLength="39" lengthAdjust="spacingAndGlyphs">2026</text></svg><circle cx="1266" cy="523" r="5.5" fill="none" stroke="#888" stroke-width="1.1"/><path d="M1263.5 523 H1268.5 M1266.5 521 L1268.5 523 L1266.5 525" fill="none" stroke="#888"/><text x="12" y="566.7" font-size="13" fill="#c9c9c9" font-weight="normal" text-anchor="start" textLength="15" lengthAdjust="spacingAndGlyphs" >1D</text><text x="38.6" y="566.7" font-size="13" fill="#c9c9c9" font-weight="normal" text-anchor="start" textLength="16.4" lengthAdjust="spacingAndGlyphs" >5D</text><text x="66.8" y="566.7" font-size="13" fill="#c9c9c9" font-weight="normal" text-anchor="start" textLength="17.5" lengthAdjust="spacingAndGlyphs" >1M</text><text x="95.6" y="566.7" font-size="13" fill="#c9c9c9" font-weight="normal" text-anchor="start" textLength="18.0" lengthAdjust="spacingAndGlyphs" >3M</text><text x="124" y="566.7" font-size="13" fill="#c9c9c9" font-weight="normal" text-anchor="start" textLength="17.7" lengthAdjust="spacingAndGlyphs" >6M</text><text x="153.4" y="566.7" font-size="13" fill="#c9c9c9" font-weight="normal" text-anchor="start" textLength="24.6" lengthAdjust="spacingAndGlyphs" >YTD</text><text x="189" y="566.7" font-size="13" fill="#c9c9c9" font-weight="normal" text-anchor="start" textLength="14.8" lengthAdjust="spacingAndGlyphs" >1Y</text><text x="215.5" y="566.7" font-size="13" fill="#c9c9c9" font-weight="normal" text-anchor="start" textLength="15.2" lengthAdjust="spacingAndGlyphs" >5Y</text><text x="242.4" y="566.7" font-size="13" fill="#c9c9c9" font-weight="normal" text-anchor="start" textLength="16.4" lengthAdjust="spacingAndGlyphs" >All</text><path d="M269.5 553 V572" stroke="#333" stroke-width="1"/><path d="M285 552 H301 V571 H291 M285 552 V560 M289 549 V554 M297 549 V554 M282 565 H292 M289 562 L292 565 L289 568" fill="none" stroke="#bbb" stroke-width="1.2"/><text x="1094.7" y="567.1" font-size="13" fill="#c9c9c9" font-weight="normal" text-anchor="start" textLength="117.8" lengthAdjust="spacingAndGlyphs" >06:33:26 PM UTC-5</text><path d="M1222.5 552 V573" stroke="#2e2e2e"/><text x="1232.6" y="567.1" font-size="13" fill="#c9c9c9" font-weight="normal" text-anchor="start" textLength="36" lengthAdjust="spacingAndGlyphs" >B-ADJ</text><rect x="1277" y="545" width="30" height="34" rx="5" fill="#2e2e2e"/><text x="1280" y="567.1" font-size="13" fill="#ddd" font-weight="normal" text-anchor="start" textLength="22" lengthAdjust="spacingAndGlyphs" >SET</text><rect x="6" y="591" width="23.5" height="24.5" rx="5" fill="#eeeeee"/><path d="M12 604 L15 598.5 L18.5 606 L22 601 L24 603.5 M17.5 594.5 V596 M17.5 610 V612" fill="none" stroke="#111" stroke-width="1.5"/><text x="37" y="609.4" font-size="13" fill="#dedede" font-weight="normal" text-anchor="start" textLength="93" lengthAdjust="spacingAndGlyphs" >Strategy Tester</text><text x="151" y="609.4" font-size="13" fill="#c8c8c8" font-weight="normal" text-anchor="start" textLength="82" lengthAdjust="spacingAndGlyphs" >Trading Panel</text><path d="M1251 610.5 H1265" stroke="#aaa" stroke-width="1.3"/><path d="M1286.5 600 V596 H1301.5 V600 M1286.5 606.5 V610.5 H1301.5 V606.5" fill="none" stroke="#bbb" stroke-width="1.4"/><text x="16" y="652.2" font-size="14.5" fill="#e2e2e2" font-weight="bold" text-anchor="start" textLength="311" lengthAdjust="spacingAndGlyphs" >DurdenBTC's Macro Regime Engine [v0.1] report</text><path d="M335.5 645 L339 648.5 L342.5 645" fill="none" stroke="#999" stroke-width="1.2"/><rect x="1077.5" y="638" width="17.5" height="16" rx="2" fill="none" stroke="#ccc" stroke-width="1.3"/><path d="M1077.5 642.5 H1095 M1081.5 636 V639 M1091 636 V639" stroke="#ccc" stroke-width="1.2"/><text x="1110" y="652.1" font-size="13.5" fill="#dcdcdc" font-weight="normal" text-anchor="start" textLength="169" lengthAdjust="spacingAndGlyphs" >Sep 8, 1997 — Dec 18, 2025</text><path d="M1290 645 L1293.5 648.5 L1297 645" fill="none" stroke="#999" stroke-width="1.2"/><rect x="13" y="673.5" width="80" height="27.5" rx="13.75" fill="#f0f0f0"/><text x="25.6" y="692.4" font-size="13.5" fill="#2a2a2a" font-weight="normal" text-anchor="start" textLength="56.7" lengthAdjust="spacingAndGlyphs" >Overview</text><rect x="98" y="673.5" width="100" height="27.5" rx="13.75" fill="#2c2c2c"/><text x="109.5" y="692.4" font-size="13.5" fill="#d4d4d4" font-weight="normal" text-anchor="start" textLength="77" lengthAdjust="spacingAndGlyphs" >Performance</text><rect x="204" y="673.5" width="113" height="27.5" rx="13.75" fill="#2c2c2c"/><text x="215.8" y="692.4" font-size="13.5" fill="#d4d4d4" font-weight="normal" text-anchor="start" textLength="91" lengthAdjust="spacingAndGlyphs" >Trades analysis</text><rect x="322" y="673.5" width="171" height="27.5" rx="13.75" fill="#2c2c2c"/><text x="333.2" y="692.4" font-size="13.5" fill="#d4d4d4" font-weight="normal" text-anchor="start" textLength="149" lengthAdjust="spacingAndGlyphs" >Risk/performance ratios</text><rect x="498" y="673.5" width="103" height="27.5" rx="13.75" fill="#2c2c2c"/><text x="509.8" y="692.4" font-size="13.5" fill="#d4d4d4" font-weight="normal" text-anchor="start" textLength="81" lengthAdjust="spacingAndGlyphs" >List of trades</text><text x="14" y="733.9" font-size="13.5" fill="#dadada" font-weight="bold" text-anchor="start" textLength="60" lengthAdjust="spacingAndGlyphs" >Total P&amp;L</text><circle cx="88" cy="729" r="7.5" fill="#4a4a4a"/><path d="M88 727.5 V733.5" stroke="#111" stroke-width="1.8"/><circle cx="88" cy="725" r="1.1" fill="#111"/><text x="349" y="733.9" font-size="13.5" fill="#dadada" font-weight="bold" text-anchor="start" textLength="141" lengthAdjust="spacingAndGlyphs" >Max equity drawdown</text><circle cx="504.5" cy="729" r="7.5" fill="#4a4a4a"/><path d="M504.5 727.5 V733.5" stroke="#111" stroke-width="1.8"/><circle cx="504.5" cy="725" r="1.1" fill="#111"/><text x="665" y="733.9" font-size="13.5" fill="#dadada" font-weight="bold" text-anchor="start" textLength="74" lengthAdjust="spacingAndGlyphs" >Total trades</text><circle cx="753" cy="729" r="7.5" fill="#4a4a4a"/><path d="M753 727.5 V733.5" stroke="#111" stroke-width="1.8"/><circle cx="753" cy="725" r="1.1" fill="#111"/><text x="913" y="733.9" font-size="13.5" fill="#dadada" font-weight="bold" text-anchor="start" textLength="108" lengthAdjust="spacingAndGlyphs" >Profitable trades</text><circle cx="1035" cy="729" r="7.5" fill="#4a4a4a"/><path d="M1035 727.5 V733.5" stroke="#111" stroke-width="1.8"/><circle cx="1035" cy="725" r="1.1" fill="#111"/><text x="1194" y="733.9" font-size="13.5" fill="#dadada" font-weight="bold" text-anchor="start" textLength="79" lengthAdjust="spacingAndGlyphs" >Profit factor</text><circle cx="1286.5" cy="729" r="7.5" fill="#4a4a4a"/><path d="M1286.5 727.5 V733.5" stroke="#111" stroke-width="1.8"/><circle cx="1286.5" cy="725" r="1.1" fill="#111"/><text x="14" y="758.2" font-size="15.5" fill="#20a58e" font-weight="normal" text-anchor="start" textLength="99" lengthAdjust="spacingAndGlyphs" >+4,807,262.00</text><text x="117" y="757.3" font-size="10.5" fill="#20a58e" font-weight="normal" text-anchor="start" textLength="18" lengthAdjust="spacingAndGlyphs" >USD</text><text x="142" y="757.5" font-size="12.5" fill="#20a58e" font-weight="normal" text-anchor="start" textLength="57" lengthAdjust="spacingAndGlyphs" >+483.07%</text><text x="349" y="758.2" font-size="15.5" fill="#dadada" font-weight="normal" text-anchor="start" textLength="78.6" lengthAdjust="spacingAndGlyphs" >414,434.50</text><text x="431" y="757.3" font-size="10.5" fill="#dadada" font-weight="normal" text-anchor="start" textLength="19" lengthAdjust="spacingAndGlyphs" >USD</text><text x="457" y="757.5" font-size="12.5" fill="#dadada" font-weight="normal" text-anchor="start" textLength="42" lengthAdjust="spacingAndGlyphs" >14.80%</text><text x="665" y="758.2" font-size="15.5" fill="#dadada" font-weight="normal" text-anchor="start" textLength="15" lengthAdjust="spacingAndGlyphs" >41</text><text x="913" y="758.2" font-size="15.5" fill="#dadada" font-weight="normal" text-anchor="start" textLength="48" lengthAdjust="spacingAndGlyphs" >56.10%</text><text x="964" y="757.3" font-size="10.5" fill="#dadada" font-weight="normal" text-anchor="start" textLength="29" lengthAdjust="spacingAndGlyphs" >23/41</text><text x="1194" y="758.2" font-size="15.5" fill="#dadada" font-weight="normal" text-anchor="start" textLength="39" lengthAdjust="spacingAndGlyphs" >6.899</text><text x="14" y="807.4" font-size="13.5" fill="#dadada" font-weight="bold" text-anchor="start" textLength="78" lengthAdjust="spacingAndGlyphs" >Equity chart</text><rect x="1269" y="789" width="27" height="27" rx="5" fill="none" stroke="#333" stroke-width="1"/><path d="M1276 801 V808.5 H1283.5 M1281.5 796.5 H1289 V804" fill="none" stroke="#ccc" stroke-width="1.4"/><rect x="13" y="1155.5" width="18.5" height="18.5" rx="3.5" fill="#efefef"/><path d="M17.5 1164.5 L21 1168.5 L27 1160.5" fill="none" stroke="#111" stroke-width="1.7"/><rect x="168.4" y="1155.5" width="18.5" height="18.5" rx="3.5" fill="#efefef"/><path d="M172.9 1164.5 L176.4 1168.5 L182.4 1160.5" fill="none" stroke="#111" stroke-width="1.7"/><text x="39" y="1169.7" font-size="13" fill="#d0d0d0" font-weight="normal" text-anchor="start" textLength="66" lengthAdjust="spacingAndGlyphs" >Buy &amp; hold</text><path d="M115 1169 L120 1163 L124 1167 L132 1159 M116 1170 L122 1165 L126 1168 L133 1162" fill="none" stroke="#aaa" stroke-width="1"/><text x="194.7" y="1169.7" font-size="13" fill="#d0d0d0" font-weight="normal" text-anchor="start" textLength="165" lengthAdjust="spacingAndGlyphs" >Trades run-up &amp; drawdown</text><path d="M368.5 1171.5 H388 M371 1171 V1165 H374 V1171 M376 1171 V1160 H379 V1171 M381 1171 V1156 H384.5 V1171" fill="none" stroke="#aaa" stroke-width="1"/><rect x="1129.5" y="1151" width="71" height="27.5" rx="4" fill="#2c2c2c"/><text x="1137" y="1169.7" font-size="13.5" fill="#f0f0f0" font-weight="bold" text-anchor="start" textLength="56" lengthAdjust="spacingAndGlyphs" >Absolute</text><text x="1214" y="1169.7" font-size="13.5" fill="#d0d0d0" font-weight="normal" text-anchor="start" textLength="69" lengthAdjust="spacingAndGlyphs" >Percentage</text><text x="14" y="1258.9" font-size="13.5" fill="#dadada" font-weight="bold" text-anchor="start" textLength="100" lengthAdjust="spacingAndGlyphs" >Profit structure</text><text x="687" y="1258.9" font-size="13.5" fill="#dadada" font-weight="bold" text-anchor="start" textLength="148.5" lengthAdjust="spacingAndGlyphs" >Trades P&amp;L distribution</text><path d="M1328 15 H1348.5 V37 L1338.2 32 L1328 37 Z M1332 21 H1344.5 M1332 25 H1344.5 M1332 29 H1344.5" fill="none" stroke="#b8b8b8" stroke-width="1.4"/><circle cx="1338" cy="71" r="10" fill="none" stroke="#b8b8b8" stroke-width="1.4"/><path d="M1338 65 V73 H1334 M1328 62 L1331 59.5 M1348 62 L1345 59.5" fill="none" stroke="#b8b8b8" stroke-width="1.4"/><path d="M1338 105 L1350 112.5 L1338 120 L1326 112.5 Z M1326 117.5 L1338 125 L1350 117.5" fill="none" stroke="#b8b8b8" stroke-width="1.4"/><path d="M1326 150 H1346 V164 H1334 L1326 170 Z M1346 156 H1351 V174 L1345 169 H1334 V164" fill="none" stroke="#b8b8b8" stroke-width="1.4"/><circle cx="1338" cy="1031" r="13" fill="none" stroke="#b8b8b8" stroke-width="1.4"/><circle cx="1338" cy="1031" r="8" fill="none" stroke="#b8b8b8" stroke-width="1.4"/><path d="M1338 1031 L1346 1023" stroke="#b8b8b8" stroke-width="1.6"/><circle cx="1338" cy="1031" r="1.8" fill="#b8b8b8"/><rect x="1326.5" y="1068" width="23" height="21" rx="3" fill="none" stroke="#b8b8b8" stroke-width="1.4"/><path d="M1326.5 1074 H1349.5 M1331 1065 V1070 M1345 1065 V1070" stroke="#b8b8b8" stroke-width="1.4"/><circle cx="1329.5" cy="1129" r="1.6" fill="#b8b8b8"/><path d="M1328.5 1121 A8 8 0 0 1 1336.5 1129 M1328.5 1115 A14 14 0 0 1 1342.5 1129 M1328.5 1109 A20 20 0 0 1 1348.5 1129" fill="none" stroke="#b8b8b8" stroke-width="1.4"/><circle cx="1345.5" cy="1110.5" r="8" fill="#e0343f"/><text x="1340.5" y="1113.7" font-size="9" fill="#fff" font-weight="normal" text-anchor="start" textLength="10" lengthAdjust="spacingAndGlyphs" >35</text><path d="M1328.5 1175.5 H1349.5 L1346.5 1171.5 V1166 A7.5 7.5 0 0 0 1331.5 1166 V1171.5 Z M1335 1179.5 H1343" fill="none" stroke="#b8b8b8" stroke-width="1.4" stroke-linejoin="round"/><rect x="1329.5" y="1148.5" width="26" height="15" rx="7.5" fill="#e0343f"/><text x="1332" y="1159.4" font-size="9.5" fill="#fff" font-weight="bold" text-anchor="start" textLength="20" lengthAdjust="spacingAndGlyphs" >99+</text><circle cx="1338.5" cy="1211.5" r="16" fill="#f2f2f2"/><circle cx="1331.5" cy="1204.5" r="2.2" fill="#111"/><circle cx="1331.5" cy="1211.5" r="2.2" fill="#111"/><circle cx="1331.5" cy="1218.5" r="2.2" fill="#111"/><circle cx="1338.5" cy="1204.5" r="2.2" fill="#111"/><circle cx="1338.5" cy="1211.5" r="2.2" fill="#111"/><circle cx="1338.5" cy="1218.5" r="2.2" fill="#111"/><circle cx="1345.5" cy="1204.5" r="2.2" fill="#111"/><circle cx="1345.5" cy="1211.5" r="2.2" fill="#111"/><circle cx="1345.5" cy="1218.5" r="2.2" fill="#111"/><path d="M1322 1240 H1354" stroke="#2a2a2a" stroke-width="1"/><circle cx="1338" cy="1264" r="12" fill="none" stroke="#b8b8b8" stroke-width="1.4"/><path d="M1334 1260 A4 4 0 1 1 1338 1264 V1267" fill="none" stroke="#b8b8b8" stroke-width="1.4"/><path d="M26.6 1079 L26.6 1075.8 L55.4 1066.8 L84.2 1065.4 L112.9 1066.0 L141.7 1065.4 L170.5 1066.8 L199.3 1058.9 L228.1 1062.5 L256.8 1067.3 L285.6 1049.2 L314.4 1041.8 L343.2 1038.5 L372.0 1041.7 L400.7 1039.2 L429.5 1003.5 L458.3 1001.6 L487.1 1002.8 L515.9 1004.7 L544.6 1006.0 L573.4 983.7 L602.2 982.2 L631.0 983.4 L659.8 983.4 L688.5 983.8 L717.3 983.8 L746.1 981.0 L774.9 979.7 L803.7 979.7 L832.4 980.2 L861.2 983.4 L890.0 923.7 L918.8 924.4 L947.6 926.6 L976.3 934.6 L1005.1 937.6 L1033.9 942.0 L1062.7 940.8 L1091.5 924.0 L1120.2 901.7 L1149.0 869.8 L1177.8 838.7 L1206.6 840.0 L1206.6 1079 Z" fill="#1f9a84" fill-opacity="0.045"/><rect x="13.0" y="1054.0" width="26.5" height="25.0" fill="#17564a"/><rect x="13.0" y="1072.0" width="26.5" height="7.0" fill="#0c7862"/><rect x="13.0" y="1079" width="26.5" height="6.5" fill="#4f1b23"/><rect x="41.8" y="1046.8" width="26.5" height="32.2" fill="#17564a"/><rect x="41.8" y="1057.6" width="26.5" height="21.4" fill="#0c7862"/><rect x="41.8" y="1079" width="26.5" height="19.7" fill="#4f1b23"/><rect x="70.6" y="1062.5" width="26.5" height="16.5" fill="#17564a"/><rect x="70.6" y="1075.0" width="26.5" height="4.0" fill="#0c7862"/><rect x="70.6" y="1079" width="26.5" height="5.0" fill="#4f1b23"/><rect x="99.3" y="1073.0" width="26.5" height="6.0" fill="#17564a"/><rect x="99.3" y="1079" width="26.5" height="2.0" fill="#4f1b23"/><rect x="128.1" y="1072.0" width="26.5" height="7.0" fill="#17564a"/><rect x="128.1" y="1079" width="26.5" height="1.0" fill="#4f1b23"/><rect x="156.9" y="1078.0" width="26.5" height="1.0" fill="#17564a"/><rect x="156.9" y="1079" width="26.5" height="4.0" fill="#b0283a"/><rect x="185.7" y="1051.6" width="26.5" height="27.4" fill="#17564a"/><rect x="185.7" y="1060.0" width="26.5" height="19.0" fill="#0c7862"/><rect x="185.7" y="1079" width="26.5" height="2.0" fill="#4f1b23"/><rect x="214.5" y="1079" width="26.5" height="11.0" fill="#4f1b23"/><rect x="214.5" y="1079" width="26.5" height="10.0" fill="#b0283a"/><rect x="243.2" y="1068.5" width="26.5" height="10.5" fill="#17564a"/><rect x="243.2" y="1079" width="26.5" height="8.8" fill="#b0283a"/><rect x="272.0" y="1019.0" width="26.5" height="60.0" fill="#17564a"/><rect x="272.0" y="1042.0" width="26.5" height="37.0" fill="#0c7862"/><rect x="272.0" y="1079" width="26.5" height="3.0" fill="#4f1b23"/><rect x="300.8" y="1043.4" width="26.5" height="35.6" fill="#17564a"/><rect x="300.8" y="1064.4" width="26.5" height="14.6" fill="#0c7862"/><rect x="300.8" y="1079" width="26.5" height="3.0" fill="#4f1b23"/><rect x="329.6" y="1068.0" width="26.5" height="11.0" fill="#17564a"/><rect x="329.6" y="1072.0" width="26.5" height="7.0" fill="#0c7862"/><rect x="358.4" y="1076.0" width="26.5" height="3.0" fill="#17564a"/><rect x="358.4" y="1079" width="26.5" height="5.0" fill="#b0283a"/><rect x="387.1" y="1068.0" width="26.5" height="11.0" fill="#17564a"/><rect x="387.1" y="1075.0" width="26.5" height="4.0" fill="#0c7862"/><rect x="387.1" y="1079" width="26.5" height="2.0" fill="#4f1b23"/><rect x="415.9" y="1025.7" width="26.5" height="53.3" fill="#17564a"/><rect x="415.9" y="1025.7" width="26.5" height="53.3" fill="#0c7862"/><rect x="444.7" y="1076.0" width="26.5" height="3.0" fill="#17564a"/><rect x="444.7" y="1079" width="26.5" height="1.0" fill="#4f1b23"/><rect x="473.5" y="1077.0" width="26.5" height="2.0" fill="#17564a"/><rect x="473.5" y="1079" width="26.5" height="2.0" fill="#b0283a"/><rect x="502.3" y="1077.0" width="26.5" height="2.0" fill="#17564a"/><rect x="502.3" y="1079" width="26.5" height="5.0" fill="#4f1b23"/><rect x="531.0" y="1077.0" width="26.5" height="2.0" fill="#17564a"/><rect x="531.0" y="1079" width="26.5" height="4.0" fill="#b0283a"/><rect x="559.8" y="1038.5" width="26.5" height="40.5" fill="#17564a"/><rect x="559.8" y="1055.0" width="26.5" height="24.0" fill="#0c7862"/><rect x="559.8" y="1079" width="26.5" height="2.0" fill="#4f1b23"/><rect x="588.6" y="1076.0" width="26.5" height="3.0" fill="#17564a"/><rect x="588.6" y="1079" width="26.5" height="4.0" fill="#b0283a"/><rect x="617.4" y="1076.0" width="26.5" height="3.0" fill="#17564a"/><rect x="617.4" y="1079" width="26.5" height="1.0" fill="#4f1b23"/><rect x="646.2" y="1077.5" width="26.5" height="1.5" fill="#17564a"/><rect x="674.9" y="1078.0" width="26.5" height="1.0" fill="#17564a"/><rect x="674.9" y="1079" width="26.5" height="1.0" fill="#4f1b23"/><rect x="703.7" y="1079" width="26.5" height="1.0" fill="#4f1b23"/><rect x="732.5" y="1076.0" width="26.5" height="3.0" fill="#17564a"/><rect x="732.5" y="1076.0" width="26.5" height="3.0" fill="#0c7862"/><rect x="761.3" y="1076.0" width="26.5" height="3.0" fill="#17564a"/><rect x="790.1" y="1076.0" width="26.5" height="3.0" fill="#17564a"/><rect x="818.8" y="1079" width="26.5" height="2.0" fill="#b0283a"/><rect x="847.6" y="1060.6" width="26.5" height="18.4" fill="#17564a"/><rect x="847.6" y="1079" width="26.5" height="3.0" fill="#4f1b23"/><rect x="876.4" y="1014.0" width="26.5" height="65.0" fill="#17564a"/><rect x="876.4" y="1025.0" width="26.5" height="54.0" fill="#0c7862"/><rect x="876.4" y="1079" width="26.5" height="3.0" fill="#4f1b23"/><rect x="905.2" y="1072.8" width="26.5" height="6.2" fill="#17564a"/><rect x="905.2" y="1079" width="26.5" height="1.0" fill="#4f1b23"/><rect x="934.0" y="1079" width="26.5" height="1.0" fill="#4f1b23"/><rect x="962.7" y="1077.0" width="26.5" height="2.0" fill="#17564a"/><rect x="962.7" y="1079" width="26.5" height="5.8" fill="#b0283a"/><rect x="991.5" y="1079" width="26.5" height="1.0" fill="#4f1b23"/><rect x="1020.3" y="1074.0" width="26.5" height="5.0" fill="#17564a"/><rect x="1020.3" y="1079" width="26.5" height="4.0" fill="#b0283a"/><rect x="1049.1" y="1075.0" width="26.5" height="4.0" fill="#17564a"/><rect x="1077.9" y="1062.8" width="26.5" height="16.2" fill="#17564a"/><rect x="1077.9" y="1066.6" width="26.5" height="12.4" fill="#0c7862"/><rect x="1106.6" y="1057.0" width="26.5" height="22.0" fill="#17564a"/><rect x="1106.6" y="1065.0" width="26.5" height="14.0" fill="#0c7862"/><rect x="1135.4" y="1059.0" width="26.5" height="20.0" fill="#17564a"/><rect x="1135.4" y="1059.0" width="26.5" height="20.0" fill="#0c7862"/><rect x="1135.4" y="1079" width="26.5" height="3.0" fill="#4f1b23"/><rect x="1164.2" y="1057.0" width="26.5" height="22.0" fill="#17564a"/><rect x="1164.2" y="1063.0" width="26.5" height="16.0" fill="#0c7862"/><rect x="1164.2" y="1079" width="26.5" height="4.0" fill="#4f1b23"/><rect x="1193.0" y="1079" width="26.5" height="1.0" fill="#4f1b23"/><path d="M26.6 1075.8 L55.6 1086.6 L84.6 1084.2 L113.6 1081.8 L142.5 1080.0 L171.5 1080.6 L198.0 1073.4 L229.5 1073.4 L256.8 1080.6 L285.8 1086.0 L314.6 1081.8 L338.7 1077.7 L358.0 1077.7 L399.0 1075.5 L430.5 1051.8 L469.0 1051.0 L517.4 1049.9 L544.0 1047.0 L573.0 1030.0 L597.0 1025.2 L636.0 1025.6 L648.3 1022.0 L687.0 1017.7 L718.4 1023.2 L754.6 1022.0 L783.6 1018.4 L859.7 1017.2 L890.0 967.6 L916.5 959.2 L946.0 980.6 L964.8 983.0 L987.0 982.4 L1004.6 980.0 L1062.0 978.7 L1119.2 939.5 L1146.6 904.7 L1176.0 877.8" fill="none" stroke="#5468bc" stroke-width="1.4" stroke-linejoin="round"/><path d="M26.6 1075.8 L55.4 1066.8 L84.2 1065.4 L112.9 1066.0 L141.7 1065.4 L170.5 1066.8 L199.3 1058.9 L228.1 1062.5 L256.8 1067.3 L285.6 1049.2 L314.4 1041.8 L343.2 1038.5 L372.0 1041.7 L400.7 1039.2 L429.5 1003.5 L458.3 1001.6 L487.1 1002.8 L515.9 1004.7 L544.6 1006.0 L573.4 983.7 L602.2 982.2 L631.0 983.4 L659.8 983.4 L688.5 983.8 L717.3 983.8 L746.1 981.0 L774.9 979.7 L803.7 979.7 L832.4 980.2 L861.2 983.4 L890.0 923.7 L918.8 924.4 L947.6 926.6 L976.3 934.6 L1005.1 937.6 L1033.9 942.0 L1062.7 940.8 L1091.5 924.0 L1120.2 901.7 L1149.0 869.8 L1177.8 838.7 L1206.6 840.0" fill="none" stroke="#22ab94" stroke-width="1.8" stroke-linejoin="round"/><circle cx="26.6" cy="1075.8" r="4" fill="#26b397"/><circle cx="55.4" cy="1066.8" r="4" fill="#26b397"/><circle cx="84.2" cy="1065.4" r="4" fill="#26b397"/><circle cx="112.9" cy="1066.0" r="4" fill="#26b397"/><circle cx="141.7" cy="1065.4" r="4" fill="#26b397"/><circle cx="170.5" cy="1066.8" r="4" fill="#26b397"/><circle cx="199.3" cy="1058.9" r="4" fill="#26b397"/><circle cx="228.1" cy="1062.5" r="4" fill="#26b397"/><circle cx="256.8" cy="1067.3" r="4" fill="#26b397"/><circle cx="285.6" cy="1049.2" r="4" fill="#26b397"/><circle cx="314.4" cy="1041.8" r="4" fill="#26b397"/><circle cx="343.2" cy="1038.5" r="4" fill="#26b397"/><circle cx="372.0" cy="1041.7" r="4" fill="#26b397"/><circle cx="400.7" cy="1039.2" r="4" fill="#26b397"/><circle cx="429.5" cy="1003.5" r="4" fill="#26b397"/><circle cx="458.3" cy="1001.6" r="4" fill="#26b397"/><circle cx="487.1" cy="1002.8" r="4" fill="#26b397"/><circle cx="515.9" cy="1004.7" r="4" fill="#26b397"/><circle cx="544.6" cy="1006.0" r="4" fill="#26b397"/><circle cx="573.4" cy="983.7" r="4" fill="#26b397"/><circle cx="602.2" cy="982.2" r="4" fill="#26b397"/><circle cx="631.0" cy="983.4" r="4" fill="#26b397"/><circle cx="659.8" cy="983.4" r="4" fill="#26b397"/><circle cx="688.5" cy="983.8" r="4" fill="#26b397"/><circle cx="717.3" cy="983.8" r="4" fill="#26b397"/><circle cx="746.1" cy="981.0" r="4" fill="#26b397"/><circle cx="774.9" cy="979.7" r="4" fill="#26b397"/><circle cx="803.7" cy="979.7" r="4" fill="#26b397"/><circle cx="832.4" cy="980.2" r="4" fill="#26b397"/><circle cx="861.2" cy="983.4" r="4" fill="#26b397"/><circle cx="890.0" cy="923.7" r="4" fill="#26b397"/><circle cx="918.8" cy="924.4" r="4" fill="#26b397"/><circle cx="947.6" cy="926.6" r="4" fill="#26b397"/><circle cx="976.3" cy="934.6" r="4" fill="#26b397"/><circle cx="1005.1" cy="937.6" r="4" fill="#26b397"/><circle cx="1033.9" cy="942.0" r="4" fill="#26b397"/><circle cx="1062.7" cy="940.8" r="4" fill="#26b397"/><circle cx="1091.5" cy="924.0" r="4" fill="#26b397"/><circle cx="1120.2" cy="901.7" r="4" fill="#26b397"/><circle cx="1149.0" cy="869.8" r="4" fill="#26b397"/><circle cx="1177.8" cy="838.7" r="4" fill="#26b397"/><circle cx="1206.6" cy="840.0" r="4" fill="#26b397"/><rect x="27.5" y="1110" width="56.5" height="3.6" fill="#13806b"/><rect x="199" y="1110" width="58.5" height="3.6" fill="#a82a39"/><rect x="257.5" y="1110" width="85.5" height="3.6" fill="#13806b"/><rect x="371" y="1110" width="86.5" height="3.6" fill="#13806b"/><rect x="457.5" y="1110" width="87.5" height="3.6" fill="#a82a39"/><rect x="545" y="1110" width="56.5" height="3.6" fill="#13806b"/><rect x="601.5" y="1110" width="86.5" height="3.6" fill="#a82a39"/><rect x="688" y="1110" width="114.5" height="3.6" fill="#13806b"/><rect x="802.5" y="1110" width="58.5" height="3.6" fill="#a82a39"/><rect x="889" y="1110" width="143.5" height="3.6" fill="#a82a39"/><rect x="1032.5" y="1110" width="143.5" height="3.6" fill="#13806b"/><text x="42.5" y="1134.3" font-size="12" fill="#c4c4c4" font-weight="bold" text-anchor="start" textLength="27" lengthAdjust="spacingAndGlyphs" >2004</text><text x="128.5" y="1134.3" font-size="12" fill="#c4c4c4" font-weight="bold" text-anchor="start" textLength="27" lengthAdjust="spacingAndGlyphs" >2006</text><text x="243.5" y="1134.3" font-size="12" fill="#c4c4c4" font-weight="bold" text-anchor="start" textLength="27" lengthAdjust="spacingAndGlyphs" >2008</text><text x="330.0" y="1134.3" font-size="12" fill="#c4c4c4" font-weight="bold" text-anchor="start" textLength="27" lengthAdjust="spacingAndGlyphs" >2012</text><text x="415.5" y="1134.3" font-size="12" fill="#c4c4c4" font-weight="bold" text-anchor="start" textLength="27" lengthAdjust="spacingAndGlyphs" >2014</text><text x="559.5" y="1134.3" font-size="12" fill="#c4c4c4" font-weight="bold" text-anchor="start" textLength="27" lengthAdjust="spacingAndGlyphs" >2018</text><text x="703.2" y="1134.3" font-size="12" fill="#c4c4c4" font-weight="bold" text-anchor="start" textLength="27" lengthAdjust="spacingAndGlyphs" >2019</text><text x="846.5" y="1134.3" font-size="12" fill="#c4c4c4" font-weight="bold" text-anchor="start" textLength="27" lengthAdjust="spacingAndGlyphs" >2020</text><text x="933.3" y="1134.3" font-size="12" fill="#c4c4c4" font-weight="bold" text-anchor="start" textLength="27" lengthAdjust="spacingAndGlyphs" >2022</text><text x="1022.3" y="1134.3" font-size="12" fill="#c4c4c4" font-weight="bold" text-anchor="start" textLength="21" lengthAdjust="spacingAndGlyphs" >Feb</text><text x="1105.5" y="1134.3" font-size="12" fill="#c4c4c4" font-weight="bold" text-anchor="start" textLength="27" lengthAdjust="spacingAndGlyphs" >2024</text><text x="1194.5" y="1134.3" font-size="12" fill="#c4c4c4" font-weight="bold" text-anchor="start" textLength="21" lengthAdjust="spacingAndGlyphs" >Dec</text><text x="1231" y="933.1" font-size="11.5" fill="#c8c8c8" font-weight="normal" text-anchor="start" textLength="68" lengthAdjust="spacingAndGlyphs" >3,000,000.00</text><text x="1231" y="982.7" font-size="11.5" fill="#c8c8c8" font-weight="normal" text-anchor="start" textLength="68" lengthAdjust="spacingAndGlyphs" >2,000,000.00</text><text x="1231" y="1031.5" font-size="11.5" fill="#c8c8c8" font-weight="normal" text-anchor="start" textLength="68" lengthAdjust="spacingAndGlyphs" >1,000,000.00</text><text x="1231" y="1082.8" font-size="11.5" fill="#c8c8c8" font-weight="normal" text-anchor="start" textLength="7" lengthAdjust="spacingAndGlyphs" >0</text><rect x="1227.5" y="832" width="82" height="16.3" rx="1.5" fill="#22ab94"/><text x="1237" y="844.3" font-size="11.5" fill="#0b2e28" font-weight="normal" text-anchor="start" textLength="68" lengthAdjust="spacingAndGlyphs" >4,807,228.00</text><rect x="1227.5" y="869" width="82" height="16.3" rx="1.5" fill="#5b9cf6"/><text x="1237" y="881.3" font-size="11.5" fill="#10224a" font-weight="normal" text-anchor="start" textLength="68" lengthAdjust="spacingAndGlyphs" >4,053,187.50</text></svg>
</body></html>
